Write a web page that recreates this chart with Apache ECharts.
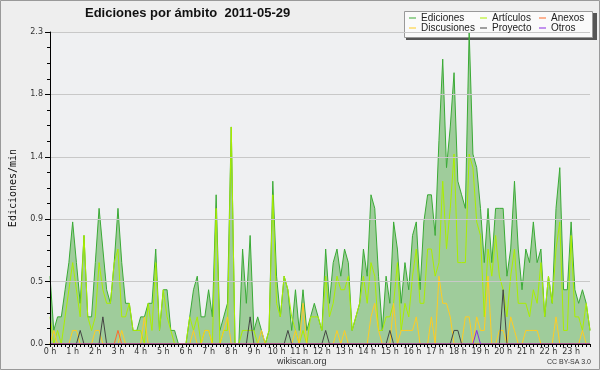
<!DOCTYPE html>
<html><head><meta charset="utf-8">
<script src="https://cdn.jsdelivr.net/npm/echarts@6/dist/echarts.min.js"></script>
<style>html,body{margin:0;padding:0;background:#eeeeee}#c{width:600px;height:370px}</style>
</head><body><div id="c"></div>
<script>
const hourLabels = ['0 h','1 h','2 h','3 h','4 h','5 h','6 h','7 h','8 h','9 h','10 h','11 h','12 h','13 h','14 h','15 h','16 h','17 h','18 h','19 h','20 h','21 h','22 h','23 h'];
const yTicks = [0, 0.46, 0.92, 1.38, 1.84, 2.3];
const ediciones = [
0.5,0.1,0.2,0.2,0.4,0.6, 0.9,0.6,0.3,0.8,0.2,0.2, 0.6,1.0,0.7,0.4,0.3,0.6, 1.0,0.6,0.3,0.3,0.1,0.1,
0.2,0.2,0.3,0.3,0.7,0.1, 0.4,0.4,0.1,0.1,0,0, 0,0.2,0.4,0.5,0.2,0.2, 0.4,0.2,1.1,0.1,0.2,0.3,
1.6,0,0,0.7,0.3,0.8, 0.1,0.2,0.1,0,0.1,1.2, 0.5,0.2,0.5,0.4,0.1,0.4, 0.1,0.4,0.1,0.2,0.3,0.2,
0.1,0.7,0.3,0.6,0.7,0.5, 0.7,0.6,0.1,0.2,0.3,0.7, 0.5,1.1,1.0,0.5,0.1,0.5, 0.3,0.9,0.7,0.3,0.6,0.4,
0.8,0.9,0.4,0.9,1.1,1.1, 0.8,1.5,2.1,1.3,1.6,2.0, 1.2,1.1,1.0,2.3,1.4,1.3, 1.0,0.6,1.0,0.6,1.0,1.0,
1.0,0.5,0.7,1.2,0.7,0.4, 0.7,0.6,0.9,0.6,0.7,0.2, 0.5,0.3,1.0,1.3,0.4,0.4, 0.9,0.4,0.3,0.4,0.3,0.1];
const articulos = [
0.2,0,0.1,0,0.2,0.4, 0.6,0.4,0.2,0.8,0.2,0.1, 0.2,0.6,0.4,0.3,0.3,0.6, 0.7,0.2,0.2,0.3,0.1,0.1,
0.1,0,0.3,0.1,0.6,0.1, 0.4,0.2,0.1,0,0,0, 0,0.2,0.1,0.2,0,0.1, 0.1,0,1.0,0,0.1,0.1,
1.6,0,0,0.1,0.1,0.1, 0.1,0,0,0,0.1,1.1, 0.3,0.2,0.5,0.4,0.2,0.1, 0,0.1,0,0.2,0.2,0.2,
0.1,0.5,0.2,0.3,0.5,0.4, 0.4,0.5,0.1,0.2,0.3,0.5, 0.3,0.6,0.5,0.1,0.1,0.2, 0.2,0.3,0.6,0.1,0.3,0.2,
0.5,0.7,0.3,0.3,0.7,0.7, 0.5,0.6,1.2,0.7,1.0,1.4, 0.6,0.6,0.6,1.4,1.3,0.9, 0.8,0.2,0.7,0.5,0.8,0.5,
0.4,0.2,0.5,0.7,0.3,0.3, 0.3,0.2,0.4,0.3,0.6,0.2, 0.5,0.3,0.7,0.9,0.1,0.1, 0.8,0.2,0.2,0.1,0.3,0.1];
const discusiones = [
0,0.1,0,0,0,0, 0.1,0.1,0,0,0,0, 0.1,0.1,0,0,0,0, 0,0.1,0,0,0,0,
0,0.2,0,0,0,0, 0,0,0,0,0,0, 0,0,0.1,0,0,0.1, 0.1,0,0,0,0.1,0.2,
0,0,0,0,0,0, 0,0,0.1,0,0,0, 0,0,0,0,0,0.1, 0,0.3,0,0,0,0,
0,0,0,0,0.1,0, 0.1,0,0,0,0,0, 0,0.2,0.3,0.1,0,0, 0,0.3,0,0.1,0.1,0.1,
0.1,0.2,0,0,0,0.2, 0,0.5,0.3,0.3,0.2,0, 0,0,0.2,0.2,0,0.2, 0.1,0.1,0.5,0,0,0.1,
0.1,0,0.2,0.1,0,0, 0.1,0.1,0.1,0.1,0,0, 0,0,0.2,0,0,0, 0,0,0,0.1,0,0];
const proyecto = [
0,0,0,0,0,0, 0,0,0.1,0,0,0, 0,0,0.2,0,0,0, 0,0,0,0,0,0,
0,0,0,0,0,0, 0,0,0,0,0,0, 0,0,0,0,0,0, 0,0,0,0,0,0,
0,0,0,0,0,0.2, 0,0,0,0,0,0, 0,0,0,0.1,0,0, 0,0,0,0,0,0,
0,0.1,0,0,0,0, 0,0,0,0,0,0, 0,0,0,0,0,0, 0.1,0,0,0,0,0,
0,0,0,0,0,0, 0,0,0,0,0,0.1, 0.1,0,0,0,0,0, 0,0,0,0,0,0,
0.4,0,0,0,0,0, 0,0,0,0,0,0, 0,0,0,0,0,0, 0,0,0,0,0,0];
const anexos = [
0,0,0,0,0,0, 0,0,0,0,0,0, 0,0,0,0,0,0, 0.1,0,0,0,0,0,
0,0,0,0,0,0, 0,0,0,0,0,0, 0,0,0,0,0,0, 0,0,0,0,0,0,
0,0,0,0,0,0, 0,0,0,0,0,0, 0,0,0,0,0,0, 0,0,0,0,0,0,
0,0,0,0,0,0, 0,0,0,0,0,0, 0,0,0,0,0,0, 0,0,0,0,0,0,
0,0,0,0,0,0, 0,0,0,0,0,0, 0,0,0,0,0,0, 0,0,0,0,0,0,
0,0,0,0,0,0, 0,0,0,0,0,0, 0,0,0,0,0,0, 0,0,0,0,0,0];
const otros = [
0,0,0,0,0,0, 0,0,0,0,0,0, 0,0,0,0,0,0, 0,0,0,0,0,0,
0,0,0,0,0,0, 0,0,0,0,0,0, 0,0,0,0,0,0, 0,0,0,0,0,0,
0,0,0,0,0,0, 0,0,0,0,0,0, 0,0,0,0,0,0, 0,0,0,0,0,0,
0,0,0,0,0,0, 0,0,0,0,0,0, 0,0,0,0,0,0, 0,0,0,0,0,0,
0,0,0,0,0,0, 0,0,0,0,0,0, 0,0,0,0,0,0.1, 0,0,0,0,0,0,
0,0,0,0,0,0, 0,0,0,0,0,0, 0,0,0,0,0,0, 0,0,0,0,0,0];

const categories = ediciones.map((_, i) => i);
const chart = echarts.init(document.getElementById('c'), null, {renderer: 'canvas'});
const FONT = 'Liberation Sans';
const TICKFONT = 'DejaVu Sans';
function line(name, data, color, extra) {
  return Object.assign({name, type: 'line', data, symbol: 'none', animation: false,
    lineStyle: {color, width: 1}, itemStyle: {color}}, extra || {});
}
const legendCommon = {orient: 'vertical', top: 13, itemGap: 0, itemWidth: 7, itemHeight: 1, z: 20,
  icon: 'rect', padding: 0, textStyle: {fontFamily: FONT, fontSize: 10, lineHeight: 10, color: '#222'}};
chart.setOption({
  backgroundColor: '#eeeeee',
  animation: false,
  title: {text: 'Ediciones por ámbito  2011-05-29', left: 80, top: 2,
    textStyle: {fontFamily: FONT, fontSize: 13, fontWeight: 'bold', color: '#111'}},
  graphic: [
    {type: 'rect', shape: {x: 0.5, y: 0.5, width: 599, height: 369}, style: {fill: 'none', stroke: '#999', lineWidth: 1}, z: 100},
    {type: 'rect', shape: {x: 406, y: 13, width: 191, height: 27}, style: {fill: '#555'}, z: 1},
    {type: 'rect', shape: {x: 404.5, y: 11.5, width: 188, height: 26}, style: {fill: '#fafafa', stroke: '#999', lineWidth: 1}, z: 2},
    {type: 'text', left: 277, top: 357, style: {text: 'wikiscan.org', fontFamily: FONT, fontSize: 9, fill: '#333'}, z: 10},
    {type: 'text', right: 9, top: 359, style: {text: 'CC BY-SA 3.0', fontFamily: FONT, fontSize: 7, fill: '#333'}, z: 10}
  ],
  legend: [
    Object.assign({}, legendCommon, {left: 409, data: ['Ediciones', 'Discusiones']}),
    Object.assign({}, legendCommon, {left: 480, data: ['Artículos', 'Proyecto']}),
    Object.assign({}, legendCommon, {left: 539, data: ['Anexos', 'Otros']})
  ],
  grid: {left: 46, right: 10, top: 32, bottom: 26, show: true, backgroundColor: '#eff0f2', borderWidth: 0},
  xAxis: {type: 'category', data: categories, boundaryGap: false, z: 10,
    axisLine: {lineStyle: {color: '#000', width: 1}},
    axisTick: {show: true, interval: 0, length: 3, lineStyle: {color: '#000'}},
    axisLabel: {interval: 5, margin: 4, fontFamily: TICKFONT, fontSize: 8, color: '#333',
      formatter: (v, i) => hourLabels[i / 6]},
    splitLine: {show: false}},
  yAxis: {type: 'value', min: 0, max: 2.3, interval: 0.46, z: 10,
    name: 'Ediciones/min', nameLocation: 'middle', nameGap: 32,
    nameTextStyle: {fontFamily: 'DejaVu Sans Mono', fontSize: 10, color: '#111'},
    axisLine: {show: true, lineStyle: {color: '#000'}},
    axisTick: {show: true, length: 5, lineStyle: {color: '#000'}},
    minorTick: {show: true, splitNumber: 4, length: 3, lineStyle: {color: '#000'}},
    axisLabel: {margin: 7, fontFamily: TICKFONT, fontSize: 8, color: '#333', formatter: v => v.toFixed(1)},
    splitLine: {lineStyle: {color: '#c8c8c8'}}},
  series: [
    line('Ediciones', ediciones, '#3aaa35', {areaStyle: {color: '#9fcc9b', opacity: 1}}),
    line('Artículos', articulos, '#aaee00'),
    line('Discusiones', discusiones, '#ffcc22'),
    line('Proyecto', proyecto, '#444444'),
    line('Anexos', anexos, '#ff6a2a'),
    line('Otros', otros, '#8a2be2')
  ]
});
</script></body></html>
